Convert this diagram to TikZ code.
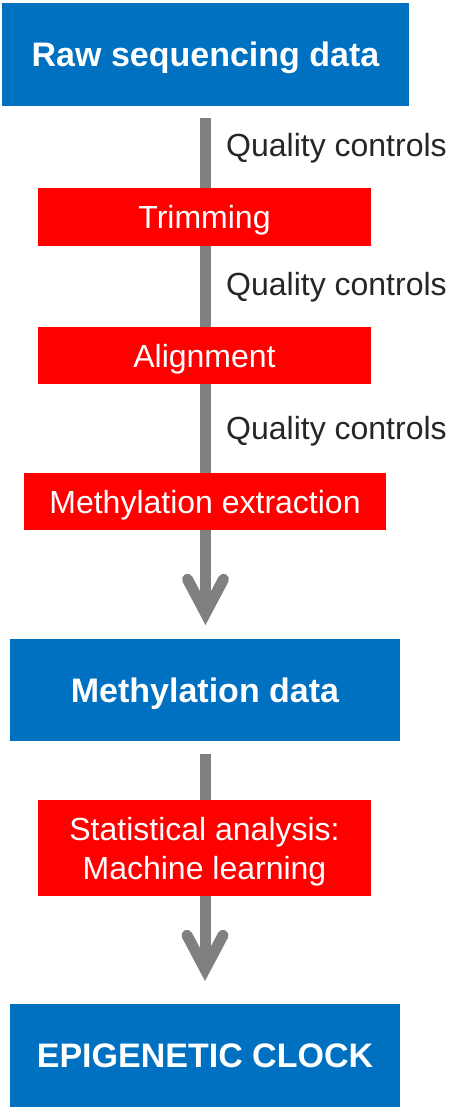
\documentclass[tikz,border=0pt]{standalone}
\usepackage{fontspec}
\setmainfont{Liberation Sans}
\usepackage{xcolor}
\usetikzlibrary{arrows.meta, positioning, backgrounds}
\definecolor{stageblue}{HTML}{0070C0}
\definecolor{steplred}{HTML}{FF0000}
\definecolor{flowgray}{HTML}{808080}
\definecolor{notegray}{HTML}{262626}

\begin{document}
\begin{tikzpicture}[
    x=1pt, y=-1pt,
    stage/.style={fill=stageblue, text=white, inner sep=0pt, outer sep=0pt, minimum width=#1,
        font=\fontsize{34}{40}\selectfont\bfseries, text height=24pt, text depth=0pt},
    stepbox/.style={fill=steplred, text=white, inner sep=0pt, outer sep=0pt, minimum width=#1,
        font=\fontsize{32}{39}\selectfont},
    flow/.style={draw=flowgray, line width=11pt,
        -{Straight Barb[length=34pt, width=36pt, line cap=round, line join=miter]}},
    qc/.style={anchor=base west, inner sep=0pt, text=notegray, font=\fontsize{32}{38}\selectfont},
]
    \useasboundingbox (0,0) rectangle (472,1110);

    % Stages (blue)
    \node[stage=407pt, minimum height=103pt] (raw) at (205.5, 54.5) {Raw sequencing data};
    \node[stage=390pt, minimum height=102pt] (methdata) at (205, 690) {Methylation data};
    \node[stage=390pt, minimum height=103pt] (clock) at (205, 1055.5) {EPIGENETIC CLOCK};

    % Processing steps (red)
    \node[stepbox=333pt, minimum height=58pt, text height=23pt, text depth=0pt] (trim) at (204.5, 217) {Trimming};
    \node[stepbox=333pt, minimum height=57pt, text height=23pt, text depth=0pt] (align) at (204.5, 355.5) {Alignment};
    \node[stepbox=362pt, minimum height=57pt, text height=23pt, text depth=0pt] (extract) at (205, 501.5) {Methylation extraction};
    \node[stepbox=333pt, minimum height=96pt, align=center, text depth=0pt] (stats) at (204.5, 848) {Statistical analysis:\\Machine learning};

    % Flow arrows
    \begin{scope}[on background layer]
        \draw[flow, shorten <=12pt, shorten >=14pt] (raw.south) -- (raw.south |- methdata.north);
        \draw[flow, shorten <=13pt, shorten >=23pt] (methdata.south) -- (methdata.south |- clock.north);
    \end{scope}

    % Quality control notes
    \node[qc] (qc1) at (226, 157) {Quality controls};
    \node[qc] (qc2) at (226, 295) {Quality controls};
    \node[qc] (qc3) at (226, 439) {Quality controls};

\end{tikzpicture}
\end{document}
